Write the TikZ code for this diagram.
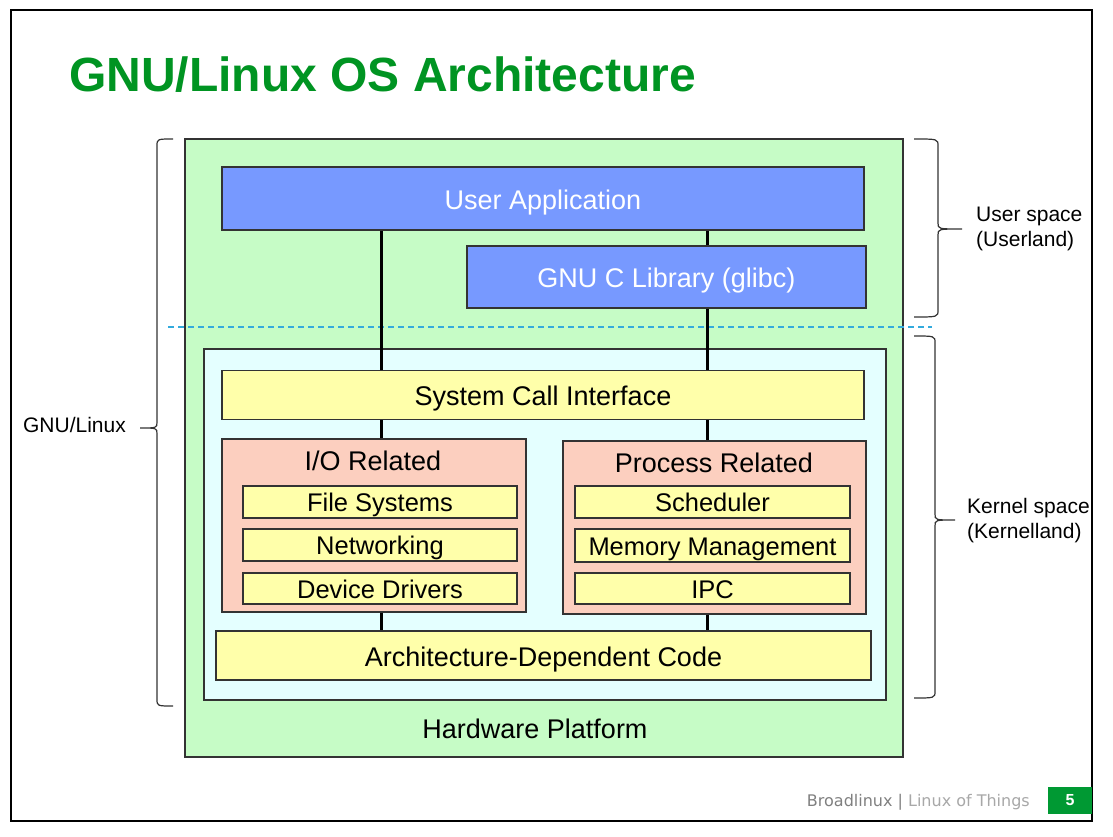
\documentclass[tikz,border=0pt]{standalone}
\usepackage{fontspec}
\setmainfont{Liberation Sans}
\newfontfamily\footfont{DejaVu Sans}
\definecolor{hwgreen}{HTML}{C6FCC6}
\definecolor{ublue}{HTML}{7799FF}
\definecolor{kcyan}{HTML}{E4FFFF}
\definecolor{kyellow}{HTML}{FFFFAA}
\definecolor{salmon}{HTML}{FCCFBF}
\definecolor{titlegreen}{HTML}{009422}
\definecolor{pagegreen}{HTML}{009933}
\definecolor{dashblue}{HTML}{33AADD}
\definecolor{edge}{HTML}{333333}
\tikzset{
  boxbase/.style={draw=edge, line width=1.2pt, inner sep=0pt, anchor=center},
  bigbox/.style={boxbase, font=\fontsize{27}{30}\selectfont, text height=26pt, text depth=5pt},
  bluebox/.style={bigbox, fill=ublue, text=white},
  ybox/.style={bigbox, fill=kyellow},
  smallbox/.style={boxbase, fill=kyellow, font=\fontsize{25.5}{28}\selectfont, text height=24pt, text depth=5pt},
  groupbox/.style={boxbase, fill=salmon},
  grouptitle/.style={inner sep=0pt, anchor=base, font=\fontsize{27}{30}\selectfont},
  wire/.style={line width=3pt, black},
  bracestyle/.style={draw=edge, line width=1.2pt},
  sidelabel/.style={font=\fontsize{21}{25}\selectfont, align=left, inner sep=0pt},
}
% #1 end x, #2 spine x, #3 tip x, #4 top y, #5 tip y, #6 bottom y
\newcommand\sidebrace[6]{%
  \draw[bracestyle] (#1,#4) .. controls (#2,#4) .. (#2,#4+7)
    -- (#2,#5-6) .. controls (#2,#5) .. (#3,#5)
    .. controls (#2,#5) .. (#2,#5+6)
    -- (#2,#6-7) .. controls (#2,#6) .. (#1,#6);}
\begin{document}
\begin{tikzpicture}[x=1pt, y=-1pt]
\useasboundingbox (0,0) rectangle (1113,837);
\fill[white] (0,0) rectangle (1113,837);
% page frame
\draw[line width=2.6pt, black] (11,10) rectangle (1092,821);
% title
\node[anchor=base west, inner sep=0pt, text=titlegreen, font=\fontsize{48}{52}\selectfont\bfseries] (title) at (69,92) {GNU/Linux OS Architecture};
% hardware box
\node[boxbase, fill=hwgreen, minimum width=718pt, minimum height=618pt] (hw) at (544,448) {};
\node[grouptitle] (hwt) at (535,738) {Hardware Platform};
% user space
\node[bluebox, minimum width=642pt, minimum height=63pt] (ua) at (543,198.5) {User Application};
\node[bluebox, minimum width=399pt, minimum height=62pt] (glibc) at (666.5,277) {GNU C Library (glibc)};
% dashed separator
\coordinate (dL) at (168,327);
\coordinate (dR) at (932,327);
\draw[dashblue, line width=1.3pt, dash pattern=on 6pt off 4pt] (dL) -- (dR);
% kernel
\node[boxbase, fill=kcyan, minimum width=682pt, minimum height=351pt] (kern) at (545,524.5) {};
\node[ybox, minimum width=642pt, minimum height=49pt] (sci) at (543,395) {System Call Interface};
\node[groupbox, minimum width=304pt, minimum height=173pt] (io) at (374,525.5) {};
\node[grouptitle] (iot) at (373,470) {I/O Related};
\node[groupbox, minimum width=303pt, minimum height=173pt] (pr) at (714.5,527.5) {};
\node[grouptitle] (prt) at (714,472) {Process Related};
\node[smallbox, minimum width=274pt, minimum height=32pt] (fs) at (380,502) {File Systems};
\node[smallbox, minimum width=274pt, minimum height=32pt] (net) at (380,545) {Networking};
\node[smallbox, minimum width=274pt, minimum height=31pt] (dd) at (380,588.5) {Device Drivers};
\node[smallbox, minimum width=275pt, minimum height=32pt] (sch) at (712.5,502) {Scheduler};
\node[smallbox, minimum width=275pt, minimum height=33pt] (mm) at (712.5,545.5) {Memory Management};
\node[smallbox, minimum width=275pt, minimum height=31pt] (ipc) at (712.5,588.5) {IPC};
\node[ybox, minimum width=655pt, minimum height=49pt] (adc) at (543.5,655.5) {Architecture-Dependent Code};
% wires
\coordinate (xL) at (381,0);
\coordinate (xR) at (707,0);
\draw[wire] (ua.south -| xL) -- (sci.north -| xL);
\draw[wire] (sci.south -| xL) -- (io.north -| xL);
\draw[wire] (io.south -| xL) -- (adc.north -| xL);
\draw[wire] (ua.south -| xR) -- (glibc.north -| xR);
\draw[wire] (glibc.south -| xR) -- (sci.north -| xR);
\draw[wire] (sci.south -| xR) -- (pr.north -| xR);
\draw[wire] (pr.south -| xR) -- (adc.north -| xR);
% braces
\sidebrace{173}{157}{140}{139}{428}{706}
\node[sidelabel, anchor=east] (gl) at (126,425) {GNU/Linux};
\sidebrace{914}{938}{962}{139}{229}{317}
\node[sidelabel, anchor=west] (us) at (976,229) {User space\\(Userland)};
\sidebrace{914}{935}{955}{336}{520}{698}
\node[sidelabel, anchor=west] (ks) at (967,521) {Kernel space\\(Kernelland)};
% footer
\node[anchor=base east, inner sep=0pt, font=\footfont\fontsize{16}{18}\selectfont] (foot) at (1030,806) {\textcolor[HTML]{808080}{Broadlinux |} \textcolor[HTML]{A8A8A8}{Linux of Things}};
\node[fill=pagegreen, minimum width=44pt, minimum height=27pt, inner sep=0pt, text=white, font=\fontsize{16}{18}\selectfont\bfseries] (pg) at (1070,800.5) {5};
\end{tikzpicture}
\end{document}
